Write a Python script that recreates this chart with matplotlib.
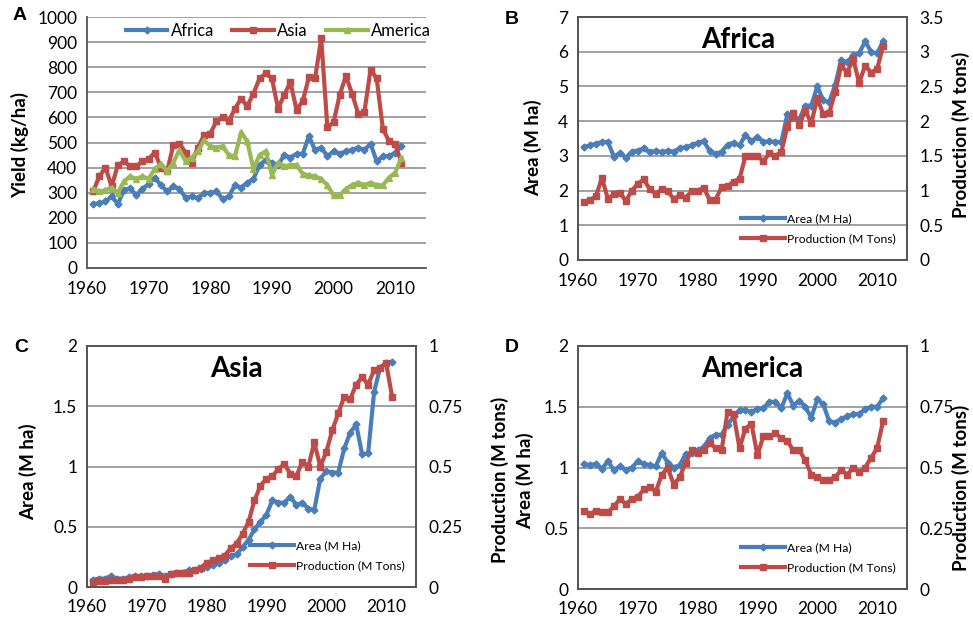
import numpy as np
import matplotlib
matplotlib.use("Agg")
import matplotlib.pyplot as plt

plt.rcParams['font.family'] = ['Lato', 'DejaVu Sans']

years = np.arange(1961, 2012)

# panel A - yield (kg/ha)
yield_africa = [255, 258, 265, 285, 255, 310, 318, 290, 315, 335, 360, 330, 305, 325, 315, 280, 285, 278, 300, 298,
                305, 275, 285, 330, 320, 340, 355, 410, 430, 420, 410, 450, 440, 455, 455, 525, 470, 480, 445, 465,
                455, 465, 470, 480, 470, 495, 425, 445, 445, 460, 485]
yield_asia = [305, 365, 400, 325, 410, 425, 405, 405, 425, 435, 460, 400, 385, 490, 495, 460, 420, 480, 530, 535,
              585, 600, 585, 635, 675, 645, 695, 755, 775, 755, 635, 690, 740, 630, 665, 760, 755, 915, 560, 580,
              690, 765, 695, 615, 620, 790, 755, 555, 505, 495, 420]
yield_america = [315, 305, 310, 320, 300, 345, 365, 355, 365, 355, 395, 415, 385, 420, 470, 425, 440, 465, 510, 485,
                 480, 485, 450, 445, 540, 505, 395, 450, 465, 370, 420, 405, 410, 410, 375, 370, 365, 355, 330, 290,
                 290, 315, 330, 340, 330, 340, 330, 330, 360, 380, 440]

# panel B - Africa
area_africa = [3.25, 3.3, 3.35, 3.4, 3.4, 2.98, 3.08, 2.95, 3.12, 3.15, 3.22, 3.1, 3.15, 3.1, 3.15, 3.12, 3.22, 3.25,
               3.3, 3.38, 3.42, 3.15, 3.05, 3.12, 3.32, 3.38, 3.3, 3.6, 3.42, 3.55, 3.4, 3.42, 3.4, 3.4, 4.2, 4.1,
               4.05, 4.45, 4.45, 5.0, 4.6, 4.55, 5.05, 5.75, 5.7, 5.9, 5.95, 6.3, 6.0, 5.95, 6.3]
prod_africa = [0.83, 0.86, 0.92, 1.18, 0.88, 0.95, 0.97, 0.85, 1.0, 1.1, 1.16, 1.02, 0.95, 1.02, 0.99, 0.88, 0.93,
               0.9, 0.99, 1.0, 1.04, 0.87, 0.87, 1.05, 1.06, 1.13, 1.17, 1.5, 1.5, 1.5, 1.42, 1.54, 1.5, 1.56, 1.92,
               2.12, 1.95, 2.15, 1.97, 2.33, 2.1, 2.12, 2.42, 2.8, 2.7, 2.9, 2.55, 2.8, 2.7, 2.75, 3.08]

# panel C - Asia
area_asia = [0.06, 0.07, 0.07, 0.09, 0.07, 0.07, 0.08, 0.09, 0.09, 0.09, 0.1, 0.11, 0.09, 0.11, 0.12, 0.12, 0.14,
             0.14, 0.15, 0.17, 0.18, 0.2, 0.22, 0.26, 0.27, 0.33, 0.39, 0.48, 0.54, 0.6, 0.72, 0.7, 0.7, 0.75, 0.68,
             0.7, 0.65, 0.64, 0.9, 0.96, 0.95, 0.95, 1.15, 1.28, 1.35, 1.1, 1.11, 1.62, 1.82, 1.86, 1.87]
prod_asia = [0.02, 0.025, 0.025, 0.03, 0.03, 0.03, 0.035, 0.04, 0.04, 0.045, 0.045, 0.045, 0.035, 0.055, 0.06, 0.06,
             0.06, 0.07, 0.08, 0.1, 0.11, 0.12, 0.13, 0.16, 0.18, 0.22, 0.27, 0.36, 0.42, 0.45, 0.46, 0.49, 0.51,
             0.47, 0.46, 0.52, 0.5, 0.6, 0.5, 0.56, 0.65, 0.72, 0.79, 0.78, 0.84, 0.87, 0.84, 0.9, 0.91, 0.93, 0.79]

# panel D - America
area_america = [1.03, 1.02, 1.03, 0.99, 1.05, 0.98, 1.01, 0.98, 1.0, 1.05, 1.03, 1.02, 1.01, 1.12, 1.04, 1.0, 1.02,
                1.11, 1.12, 1.14, 1.17, 1.24, 1.27, 1.27, 1.35, 1.42, 1.47, 1.47, 1.46, 1.48, 1.49, 1.54, 1.54, 1.49,
                1.61, 1.51, 1.55, 1.5, 1.41, 1.56, 1.52, 1.38, 1.37, 1.4, 1.42, 1.44, 1.44, 1.48, 1.5, 1.5, 1.57]
prod_america = [0.32, 0.31, 0.32, 0.315, 0.315, 0.34, 0.37, 0.35, 0.37, 0.38, 0.41, 0.42, 0.4, 0.47, 0.5, 0.43, 0.46,
                0.52, 0.57, 0.56, 0.57, 0.6, 0.58, 0.57, 0.73, 0.72, 0.58, 0.66, 0.68, 0.55, 0.63, 0.63, 0.64, 0.62,
                0.61, 0.57, 0.57, 0.53, 0.47, 0.46, 0.45, 0.45, 0.46, 0.49, 0.47, 0.5, 0.48, 0.5, 0.54, 0.58, 0.69]

BLUE = '#4a7ebb'
RED = '#be4b48'
GREEN = '#98b954'
GRID = '#9a9a9a'
W, H = 973, 622
TICK_FS = 12.5
LAB_FS = 13.5

fig = plt.figure(figsize=(W / 100, H / 100), dpi=100)


def px_axes(l, t, r, b):
    return fig.add_axes([l / W, 1 - b / H, (r - l) / W, (b - t) / H])


def px_text(x, y, s, **kw):
    fig.text(x / W, 1 - y / H, s, ha='center', va='center', **kw)


def vlabel(x, y, s):
    px_text(x, y, s, rotation=90, fontsize=LAB_FS, fontweight='bold')


def style(ax, ymax, ystep, box=True):
    ax.set_xlim(1960, 2015)
    ax.set_xticks(range(1960, 2011, 10))
    ax.set_ylim(0, ymax)
    ax.set_yticks(np.arange(0, ymax + ystep / 2, ystep))
    ax.set_yticklabels(['%g' % v for v in ax.get_yticks()])
    ax.yaxis.grid(True, color=GRID, lw=1.3)
    ax.set_axisbelow(True)
    ax.tick_params(labelsize=TICK_FS, length=0)
    ax.tick_params(axis='x', pad=9)
    ax.tick_params(axis='y', pad=7)
    for s in ax.spines.values():
        s.set_color('#555555')
        s.set_linewidth(1.3)
    if not box:
        ax.spines['top'].set_visible(False)
        ax.spines['right'].set_visible(False)


def twin_panel(l, t, r, b, area, prod, lmax, lstep, rmax, rstep, title, title_x, letter):
    ax = px_axes(l, t, r, b)
    style(ax, lmax, lstep)
    ax2 = ax.twinx()
    ax2.set_ylim(0, rmax)
    ax2.set_yticks(np.arange(0, rmax + rstep / 2, rstep))
    ax2.set_yticklabels(['%g' % v for v in ax2.get_yticks()])
    ax2.tick_params(labelsize=TICK_FS, length=0, pad=9)
    for s in ax2.spines.values():
        s.set_color('#555555')
        s.set_linewidth(1.3)
    la, = ax.plot(years, area, color=BLUE, lw=3, marker='D', ms=3.5)
    lp, = ax2.plot(years, prod, color=RED, lw=3, marker='s', ms=5)
    ax2.legend([la, lp], ['Area (M Ha)', 'Production (M Tons)'], loc='lower right',
               bbox_to_anchor=(1.0, 0.02), frameon=False, fontsize=8.7, handlelength=3.6,
               labelspacing=0.75, handletextpad=0.2)
    px_text(title_x, t + 23, title, fontsize=20, fontweight='bold')
    px_text(l - 66, t + 2, letter, fontsize=14, fontweight='bold', family='Liberation Sans')
    return ax, ax2


# panel A
axA = px_axes(87, 17, 426, 268)
style(axA, 1000, 100, box=False)
axA.plot(years, yield_africa, color=BLUE, lw=3, marker='D', ms=3.5, label='Africa')
axA.plot(years, yield_asia, color=RED, lw=3, marker='s', ms=5, label='Asia')
axA.plot(years, yield_america, color=GREEN, lw=3, marker='^', ms=4, label='America')
axA.legend(loc='upper left', ncol=3, frameon=False, fontsize=12, bbox_to_anchor=(0.07, 1.035),
           handlelength=2.5, handletextpad=0.2, columnspacing=1.1)
vlabel(20, 145, 'Yield (kg/ha)')
px_text(20, 16, 'A', fontsize=14, fontweight='bold', family='Liberation Sans')

# panel B
twin_panel(578, 17, 907, 260, area_africa, prod_africa, 7, 1, 3.5, 0.5, 'Africa', 738, 'B')
vlabel(533, 148, 'Area (M ha)')
vlabel(961, 135, 'Production (M tons)')

# panel C
twin_panel(87, 346, 416, 587, area_asia, prod_asia, 2, 0.5, 1, 0.25, 'Asia', 236, 'C')
vlabel(28, 472, 'Area (M ha)')

# panel D
twin_panel(578, 346, 907, 589, area_america, prod_america, 2, 0.5, 1, 0.25, 'America', 752, 'D')
vlabel(525, 481, 'Area (M ha)')
vlabel(500, 480, 'Production (M tons)')
vlabel(961, 488, 'Production (M tons)')

fig.savefig('out.png', dpi=100)
